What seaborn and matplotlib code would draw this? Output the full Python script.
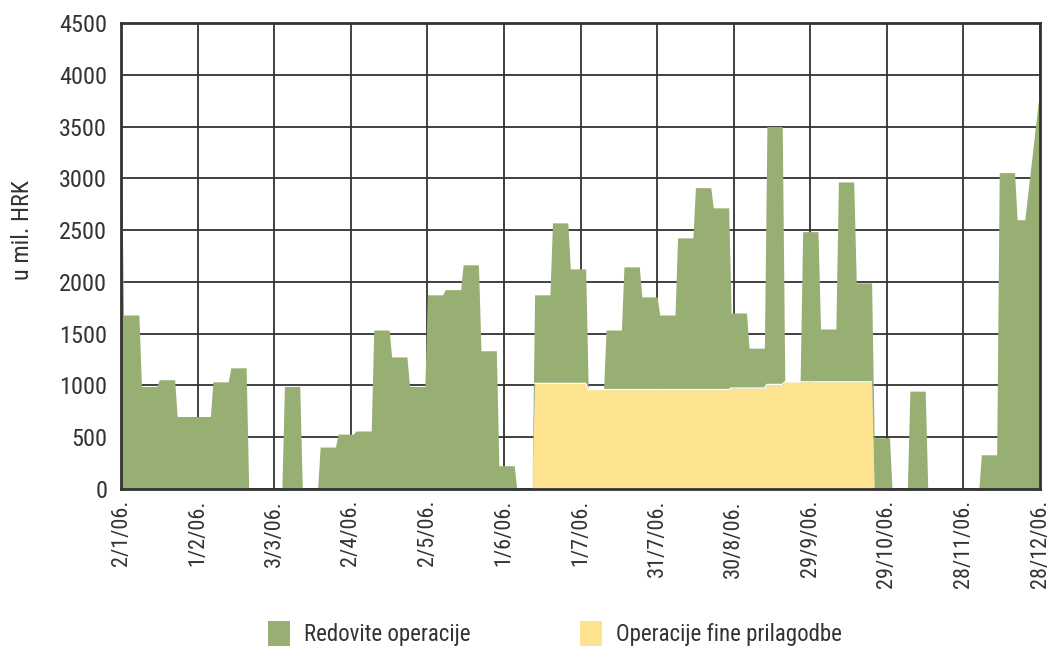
import pandas as pd
import matplotlib
matplotlib.use("Agg")
import matplotlib.pyplot as plt
from matplotlib.patches import Patch
import seaborn as sns


# ---------------------------------------------------------------------
# Data: weekly values in mil. HRK (2006), one plateau per week
# ---------------------------------------------------------------------
prvi_dan = 3500      # 2/1/06.
zadnji_dan = 3890    # 28/12/06.

redovite = [1680, 990, 1055, 700, 700, 1035, 1170, 0, 0, 990,
            0, 405, 530, 560, 1535, 1275, 990, 1875, 1925, 2165,
            1335, 225, 0, 855, 1550, 1105, 0, 575, 1185, 895,
            720, 1465, 1950, 1755, 725, 385, 2490, 0, 1450, 510,
            1930, 955, 495, 0, 945, 0, 0, 0, 330, 3055,
            2600]

fine = [0, 0, 0, 0, 0, 0, 0, 0, 0, 0,
        0, 0, 0, 0, 0, 0, 0, 0, 0, 0,
        0, 0, 0, 1020, 1020, 1020, 960, 960, 960, 960,
        960, 960, 960, 960, 975, 975, 1010, 1035, 1035, 1035,
        1035, 1035, 0, 0, 0, 0, 0, 0, 0, 0,
        0]

tick_datumi = ["2006-01-02", "2006-02-01", "2006-03-03", "2006-04-02",
               "2006-05-02", "2006-06-01", "2006-07-01", "2006-07-31",
               "2006-08-30", "2006-09-29", "2006-10-29", "2006-11-28",
               "2006-12-28"]
oznake = ["2/1/06.", "1/2/06.", "3/3/06.", "2/4/06.", "2/5/06.", "1/6/06.",
          "1/7/06.", "31/7/06.", "30/8/06.", "29/9/06.", "29/10/06.",
          "28/11/06.", "28/12/06."]
y_ticks = [0, 500, 1000, 1500, 2000, 2500, 3000, 3500, 4000, 4500]

GREEN = "#97AF72"
YELLOW = "#FDE38F"
INK = "#333333"

# ---------------------------------------------------------------------
# Build a daily table from the weekly values
# ---------------------------------------------------------------------
start = pd.Timestamp("2006-01-02")
kraj = pd.Timestamp("2006-12-22")   # last day before the holiday gap

rows = [(start, prvi_dan, 0)]
for i, (r, f) in enumerate(zip(redovite, fine)):
    for d in range(7 * i + 1, 7 * i + 8):
        day = start + pd.Timedelta(days=d)
        if day <= kraj:
            rows.append((day, r, f))
rows.append((pd.Timestamp("2006-12-28"), zadnji_dan, 0))

df = pd.DataFrame(rows, columns=["datum", "redovite", "fine"])
df["ukupno"] = df["redovite"] + df["fine"]

# ---------------------------------------------------------------------
# Plot
# ---------------------------------------------------------------------
sns.set_theme(style="white")
plt.rcParams["font.family"] = ["DejaVu Sans Condensed", "Roboto Condensed",
                               "Roboto", "DejaVu Sans"]

fig, ax = plt.subplots(figsize=(10.57, 6.48), dpi=100)
fig.subplots_adjust(left=0.1145, right=0.984, top=0.9645, bottom=0.2454)

ax.set_axisbelow(True)
ax.grid(True, color=INK, lw=1.3)

ax.fill_between(df["datum"], 0, df["fine"], color=YELLOW, lw=0, zorder=1)
ax.fill_between(df["datum"], df["fine"], df["ukupno"], color=GREEN, lw=0, zorder=1)
sns.lineplot(x=df["datum"], y=df["fine"].where(df["fine"] > 0),
             color="white", lw=0.9, ax=ax, zorder=2)

ax.set_xlim(pd.Timestamp(tick_datumi[0]), pd.Timestamp(tick_datumi[-1]))
ax.set_ylim(0, 4500)
ax.set_xticks(pd.to_datetime(tick_datumi))
ax.set_xticklabels(oznake, rotation=90)
ax.set_yticks(y_ticks)
ax.set_yticklabels([str(v) for v in y_ticks])
ax.tick_params(axis="x", length=0, labelsize=16, colors=INK, pad=8)
ax.tick_params(axis="y", length=0, labelsize=17.5, colors=INK, pad=10)

ax.set_xlabel("")
ax.set_ylabel("u mil. HRK", fontsize=17.5, color=INK)
ax.yaxis.set_label_coords(-0.095, 0.556)

for s in ax.spines.values():
    s.set_visible(True)
    s.set_color(INK)
    s.set_linewidth(2)

handles = [Patch(facecolor=GREEN, edgecolor="none"),
           Patch(facecolor=YELLOW, edgecolor="none")]
fig.legend(handles, ["Redovite operacije", "Operacije fine prilagodbe"],
           loc="center", bbox_to_anchor=(0.525, 0.022), ncol=2, frameon=False,
           fontsize=16.5, handlelength=0.95, handleheight=1.3,
           handletextpad=0.6, columnspacing=4.8, labelcolor=INK)

fig.savefig("out.png", dpi=100, facecolor="white")
